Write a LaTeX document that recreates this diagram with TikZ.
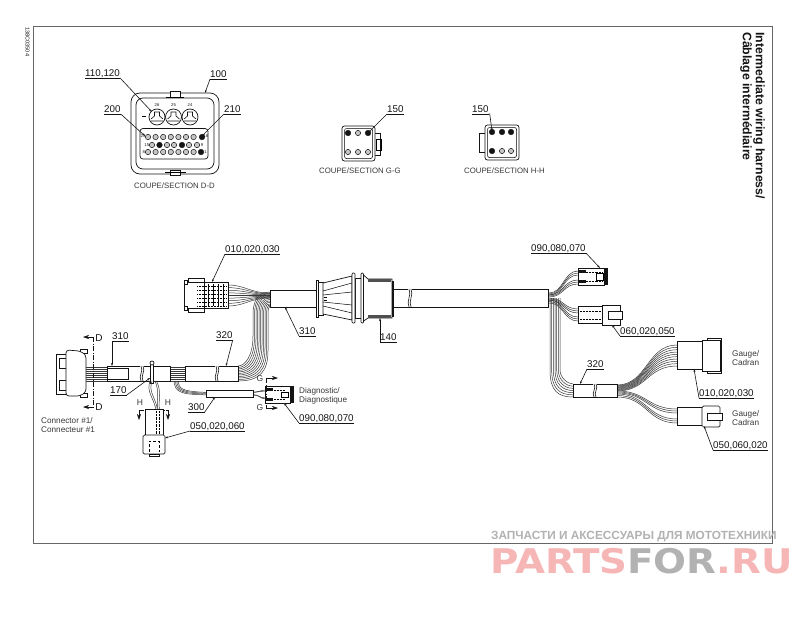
\documentclass[tikz,border=0pt]{standalone}
\usepackage{fontspec}
\usepackage{graphicx}
\setmainfont{Liberation Sans}
\newfontfamily\wmfont{DejaVu Sans}
\usetikzlibrary{arrows.meta}
\definecolor{ink}{gray}{0.08}
\definecolor{framec}{gray}{0.40}
\definecolor{wmpink}{RGB}{246,182,182}
\definecolor{wmgray}{gray}{0.70}
\tikzset{
  wire/.style={line width=.5pt,draw=ink!85},
  part/.style={line width=.7pt,draw=ink,fill=white},
  lead/.style={line width=.6pt,draw=ink},
  lbl/.style={inner xsep=0pt,inner ysep=1.5pt,text height=7pt,text depth=0pt,anchor=south west,font=\fontsize{9.8}{10}\selectfont,text=ink},
  sect/.style={inner sep=0pt,font=\fontsize{7.8}{9}\selectfont,text=ink!85,anchor=west},
  small/.style={inner sep=0pt,font=\fontsize{8.2}{9.2}\selectfont,text=ink!85,align=left,anchor=north west},
  tinyt/.style={inner sep=0pt,font=\fontsize{4.2}{5}\selectfont,text=ink},
  letter/.style={inner sep=0pt,font=\fontsize{8.5}{9}\selectfont,text=ink!85},
  pin/.style={line width=.5pt,draw=ink,fill=gray!45},
  pinb/.style={line width=.4pt,draw=ink,fill=ink},
  cut/.style={-{Stealth[length=6pt,width=4pt]},line width=.6pt,draw=ink},
  cutline/.style={line width=.5pt,draw=ink,dash pattern=on 5pt off 1.5pt on 1pt off 1.5pt},
  tip/.style={-{Stealth[length=3pt,width=2pt]}}
}
\newcommand\lab[7]{% name x yu text tipx tipy side
  \node[lbl] (#1) at (#2,#3) {#4};
  \coordinate (#1-t) at (#5,#6);
  \draw[lead] (#1.south west) -- (#1.south east);
  \draw[lead,tip] (#1.south #7) -- (#1-t);
}
\newcommand\fan[7]{%
  \foreach \i in {0,...,#7}{%
    \pgfmathsetmacro\fa{#2+(#3-#2)*\i/#7}
    \pgfmathsetmacro\fb{#5+(#6-#5)*\i/#7}
    \pgfmathsetmacro\fm{(#1+#4)/2}
    \draw[wire] (#1,\fa) .. controls (\fm,\fa) and (\fm,\fb) .. (#4,\fb);
  }}
\newcommand\hw[5]{% x1 x2 ya yb n
  \foreach \i in {0,...,#5}{%
    \pgfmathsetmacro\fa{#3+(#4-#3)*\i/#5}
    \draw[wire] (#1,\fa) -- (#2,\fa);
  }}
\newcommand\brk[3]{% x y1 y2
  \fill[white] (#1-1,#2+.4) rectangle (#1+3,#3-.4);
  \foreach \d in {0,2}{\draw[lead] (#1+\d,#2) .. controls (#1+\d+3,#2+#3/3-#2/3) and (#1+\d-3,#2+2*#3/3-2*#2/3) .. (#1+\d,#3);}
}
\begin{document}
\begin{tikzpicture}[x=1pt,y=-1pt]
\useasboundingbox (0,0) rectangle (800,624);
\fill[white] (0,0) rectangle (800,624);
% frame
\draw[line width=1pt,draw=framec] (33.5,26) rectangle (772,543);
\node[inner sep=0pt,rotate=-90,anchor=west,font=\fontsize{5.6}{6}\selectfont,text=ink] (code) at (27.5,27) {138C03504};
\node[inner sep=0pt,rotate=-90,anchor=north west,align=left,font=\bfseries\fontsize{12.3}{13}\selectfont,text=ink] (title) at (765,32) {Intermediate wiring harness/\\Câblage intermédiaire};

% ---------- Section D-D
\draw[part,rounded corners=9pt] (131,93) rectangle (219,174);
\draw[part,rounded corners=7pt] (136,98) rectangle (214,169);
\draw[part,fill=white] (170,91) rectangle (180,97);
\draw[line width=.5pt] (166,97) -- (184,97);
\draw[part,fill=white] (170,170) rectangle (180,175);
\draw[line width=.5pt] (165,172) -- (186,172);
\draw[part,rounded corners=3pt] (140,128.5) rectangle (208,159);
\foreach \x/\n in {157/26,173.5/25,190/24}{
  \draw[part] (\x,117) circle (8);
  \draw[line width=.6pt,draw=ink] (\x-6,119) -- (\x-2.5,116) -- (\x-2.5,112) -- (\x+2.5,112) -- (\x+2.5,116) -- (\x+6,119) (\x-6,121) -- (\x+6,121);
  \node[tinyt] (cav\n) at (\x,105.5) {\n};
}
\draw[line width=.7pt] (142,116) -- (146,116);
\foreach \x in {148,155.6,163.2,170.8,178.4,186,193.6}{\draw[pin] (\x,137) circle (2.7);\draw[pin] (\x,152) circle (2.7);}
\foreach \x in {152,167,174,189,197}{\draw[pin] (\x,145) circle (2.7);}
\draw[pinb] (202,137) circle (2.8);
\draw[pinb] (201,152) circle (2.8);
\draw[pinb] (159.5,145) circle (2.8);
\draw[pinb] (182,145) circle (2.8);
\node[tinyt] (r1l) at (143,136) {23};
\node[tinyt] (r1r) at (206,136) {16};
\node[tinyt] (r2l) at (146.8,145) {15};
\node[tinyt] (r2r) at (202,145) {9};
\node[tinyt] (r3l) at (143.8,152) {8};
\node[tinyt] (r3r) at (205.5,152) {1};
\lab{a110}{85}{78}{110,120}{152}{112}{east}
\lab{a100}{210}{79}{100}{205}{93}{west}
\lab{a200}{104}{114}{200}{145}{136}{east}
\lab{a210}{224}{114}{210}{201}{137}{west}
\node[sect] (sdd) at (134,186) {COUPE/SECTION D-D};

% ---------- Section G-G
\draw[part] (375,133) -- (380,133) -- (380,155) -- (375,155);
\draw[line width=.5pt] (376,139) rectangle (381,150);
\draw[part,rounded corners=2.5pt] (342,126) rectangle (375,161);
\draw[line width=.5pt,rounded corners=2pt] (344.5,128.5) rectangle (372.5,158.5);
\foreach \x in {348,358,368}{\draw[pin] (\x,152) circle (2.6);}
\draw[pin] (358,133) circle (2.6);
\draw[pinb] (348,133) circle (2.8);
\draw[pinb] (368,133) circle (2.8);
\lab{g150}{387}{114}{150}{368}{133}{west}
\node[sect] (sgg) at (319,171) {COUPE/SECTION G-G};

% ---------- Section H-H
\draw[part] (485,133) -- (479,133) -- (479,152) -- (485,152);
\draw[part,rounded corners=2.5pt] (485,125) rectangle (519,160);
\draw[line width=.5pt,rounded corners=2pt] (487.5,127.5) rectangle (516.5,157.5);
\foreach \x in {502,511}{\draw[pin] (\x,151) circle (2.6);}
\foreach \x in {492,502,511}{\draw[pinb] (\x,132) circle (2.8);}
\draw[pinb] (492,151) circle (2.8);
\node[lbl] (h150) at (472,114) {150};
\coordinate (h150-t) at (492,131);
\draw[lead] (h150.south west) -- (h150.south east);
\draw[lead,tip] (h150.south east) -- ++(1,0) -- (h150-t);
\node[sect] (shh) at (464,171) {COUPE/SECTION H-H};

% ---------- wires left
\hw{86}{107}{367}{381}{7}
\hw{170}{186}{367}{381}{7}
% 300 branch
\foreach \i in {0,1,2,3}{
  \draw[wire] (174+\i*1.4,381) .. controls (175+\i*1.4,392-\i*1.2) and (180,393.5-\i*1.1+1) .. (206,392.5-\i*.8+2.3);
}
\fan{253}{392.5}{394.5}{266}{390}{399}{1}
\fan{253}{392}{395}{266}{391}{398}{1}
% big bend
\foreach \i in {0,...,10}{
  \pgfmathsetmacro\yh{366+15*\i/10}
  \pgfmathsetmacro\xv{253+15*\i/10}
  \pgfmathsetmacro\yt{292+15*\i/10}
  \draw[wire] (238,\yh) .. controls (\xv-8,\yh) and (\xv,\yh-10) .. (\xv,\yh-30) -- (\xv,315) .. controls (\xv,302) and (\xv+4,\yt) .. (270,\yt);
}
% top connector wires
\foreach \i in {0,...,8}{
  \pgfmathsetmacro\fa{285+21*\i/8}
  \pgfmathsetmacro\fb{293+5*\i/8}
  \draw[wire] (228,\fa) .. controls (245,\fa) and (250,\fb) .. (270,\fb);
}
% ---------- wires right
\foreach \i in {0,...,6}{
  \pgfmathsetmacro\xv{550+10*\i/6}
  \pgfmathsetmacro\yh{397-13*\i/6}
  \draw[wire] (\xv,298) -- (\xv,370) .. controls (\xv,\yh-6) and (\xv+8,\yh) .. (573,\yh);
}
\fan{549}{293}{295}{578}{271}{275}{2}
\fan{549}{295}{297}{578}{280}{284}{2}
\fan{549}{298}{300}{578}{309}{313}{2}
\fan{549}{300}{303}{578}{317}{321}{2}
\fan{617}{385}{391}{677}{345}{366}{9}
\fan{617}{391}{393}{677}{409}{413}{2}
\fan{617}{394}{397}{677}{419}{423}{2}

% ---------- Connector #1
\draw[part] (56,354) rectangle (66,394);
\draw[part] (59,358) rectangle (66,368);
\draw[part] (59,380) rectangle (66,390);
\draw[part] (80,349) rectangle (87,353);
\draw[part] (80,393) rectangle (87,397);
\draw[part,rounded corners=3pt] (66,350) -- (80,351) -- (86,355) -- (86,392) -- (80,396) -- (66,396) -- cycle;
\draw[cutline] (93,337) -- (93,407);
\draw[cut] (93,337) -- (83,337);
\draw[cut] (93,407) -- (83,407);
\node[inner sep=0pt,font=\fontsize{10}{11}\selectfont,text=ink] (d1) at (99,338) {D};
\node[inner sep=0pt,font=\fontsize{10}{11}\selectfont,text=ink] (d2) at (99,407) {D};
\node[small] (conn) at (41,417) {Connector \#1/\\Connecteur \#1};

% sleeve 310 left
\draw[part] (107,366) rectangle (170,381);
\draw[part] (107,368) rectangle (128,379);
\brk{141}{366}{381}
% clip 170
\draw[part] (150.5,365) -- (150.5,383) -- (153.5,383) -- (153.5,365);
\draw[part] (152,363) circle (2);
% branch to lower connector
\draw[wire] (150,381) .. controls (146,392) and (154,398) .. (156,410);
\draw[wire] (152,381) .. controls (148,392) and (156,398) .. (157.5,410);
\draw[wire] (155,381) .. controls (160,392) and (156,400) .. (158,410);
\draw[wire] (156.5,381) .. controls (162,392) and (158,400) .. (159.5,410);
% sleeve 320 left
\draw[part] (185,366) rectangle (238,381);
\brk{216}{366}{381}
% H cuts
\node[letter] (h1) at (140,403) {H};
\node[letter] (h2) at (168,403) {H};
\draw[cut] (139,410) -- (139,420);
\draw[cut] (168,410) -- (168,420);
\draw[cutline] (139,410) -- (168,410);
% lower connector
\draw[part] (145,409) rectangle (163,435);
\draw[line width=.4pt,densely dotted] (156,411) -- (156,435) (159,411) -- (159,435);
\draw[part,rounded corners=1.5pt] (143,435) rectangle (165,454);
\draw[line width=.4pt,densely dashed] (149,452) -- (149,441) -- (159,441) -- (159,452);
\draw[part] (149,454) rectangle (159,456);
\lab{a310l}{112}{341}{310}{112}{366}{west}
\lab{a170}{110}{395}{170}{150}{378}{east}
\lab{a300}{188}{412}{300}{215}{397}{east}
\lab{a050l}{190}{431}{050,020,060}{165}{438}{west}
\lab{a320l}{216}{340}{320}{226}{366}{east}
% 300 sleeve
\draw[part] (206,390) rectangle (253,397);
% Diagnostic connector
\draw[part] (265,386) rectangle (290,403);
\fill[ink] (290,386) rectangle (294,403);
\draw[line width=.45pt,densely dotted] (268,390) -- (285,390) (268,399) -- (285,399);
\draw[line width=.4pt] (281,392) rectangle (288,397);
\fill[ink] (266,388) rectangle (273,391);
\fill[ink] (266,397.5) rectangle (273,400.5);
\draw[cutline] (266,378) -- (266,408);
\draw[cut] (266,378) -- (278,378);
\draw[cut] (266,408) -- (278,408);
\node[letter] (g1) at (260,379) {G};
\node[letter] (g2) at (260,408) {G};
\node[small] (diag) at (299,387) {Diagnostic/\\Diagnostique};
\lab{a090l}{299}{423}{090,080,070}{284}{403}{west}

% top connector
\draw[part] (204,282) rectangle (228,308);
\draw[part] (184,282) -- (204,282) -- (204,308) -- (184,308) -- cycle;
\draw[part] (188,278) rectangle (204,282);
\draw[part] (188,308) rectangle (204,312);
\draw[part] (184,280) rectangle (187,284);
\draw[part] (184,306) rectangle (187,310);
\foreach \y in {286,290,294,298,302,306}{\draw[line width=.5pt,densely dotted] (197,\y) -- (226,\y);}
\foreach \x in {208,213,218,223}{\draw[line width=.35pt] (\x,284) -- (\x,306);}
\lab{a010t}{225}{254}{010,020,030}{212}{282}{west}

% main sleeve 310
\draw[part] (270,290) rectangle (316,307);
\lab{a310}{299}{336}{310}{285}{307}{west}

% plug 140
\draw[part] (393,289) rectangle (548,307);
\brk{409}{289}{307}
\draw[part] (316,280) rectangle (318.5,317);
\draw[part] (318.5,282) rectangle (323,315);
\draw[part] (323,283) -- (352,276) -- (352,320) -- (323,314) -- cycle;
\draw[line width=.5pt] (323,291) -- (352,283) (323,306) -- (352,313) (323,295) -- (352,292) (323,302) -- (352,305);
\draw[line width=.7pt] (324,297) -- (327,297) (324,300) -- (327,300);
\draw[part] (355,278) rectangle (361,318);
\draw[part,rounded corners=1pt] (352,273) rectangle (355,323);
\draw[part,rounded corners=1pt] (361,273) rectangle (363.5,323);
\draw[part] (363.5,275) -- (368,279) -- (392,279) -- (392,318) -- (368,318) -- (363.5,321) -- cycle;
\fill[ink!75] (368,279) rectangle (391,282);
\fill[ink!75] (368,315) rectangle (391,318);
\draw[part] (392,281) rectangle (393.5,316);
\lab{a140}{380}{342}{140}{380}{318}{west}

% right connectors
\draw[part] (578,268) rectangle (604,285);
\fill[ink] (604,268) rectangle (608,285);
\draw[line width=.45pt,densely dotted] (580,272) -- (602,272) (580,281) -- (602,281);
\draw[line width=.4pt] (596,273) rectangle (603,280);
\fill[ink] (579,270) rectangle (586,273);
\fill[ink] (579,279.5) rectangle (586,282.5);
\lab{a090r}{531}{253}{090,080,070}{600}{268}{east}
\draw[part] (578,306) rectangle (602,323);
\draw[line width=.45pt,densely dotted] (580,311) -- (602,311) (580,319) -- (602,319);
\draw[part] (602,305) rectangle (620,325);
\draw[part] (608,311) rectangle (622,319);
\lab{a060}{620}{336}{060,020,050}{612}{325}{west}

% sleeve 320 right
\draw[part] (573,384) rectangle (617,397);
\brk{594}{384}{397}
\lab{a320r}{587}{369}{320}{580}{384}{west}

% gauge connectors
\draw[part] (707,338) rectangle (721,373);
\draw[part] (677,341) rectangle (702,369);
\draw[part] (702,340) -- (720,340) -- (720,371) -- (702,371) -- cycle;
\lab{a010r}{699}{398}{010,020,030}{694}{369}{west}
\draw[part] (677,407) rectangle (702,425);
\draw[part,rounded corners=1.5pt] (702,406) rectangle (720,427);
\draw[part] (707,413) rectangle (722,420);
\lab{a050r}{713}{450}{050,060,020}{704}{426}{west}
\node[small] (g3) at (732,350) {Gauge/\\Cadran};
\node[small] (g4) at (732,410) {Gauge/\\Cadran};

% watermark
\node[inner sep=0pt,anchor=west,text=wmgray,font=\bfseries\fontsize{11.8}{13}\selectfont] (wm1) at (491,537) {ЗАПЧАСТИ И АКСЕССУАРЫ ДЛЯ МОТОТЕХНИКИ};
\node[inner sep=0pt,anchor=west,font=\wmfont\bfseries\fontsize{34}{36}\selectfont] (wm2) at (490,561) {\scalebox{1.14}[1]{\textcolor{wmpink}{PARTS}\textcolor{wmgray}{FOR}\textcolor{wmpink}{.RU}}};
\end{tikzpicture}
\end{document}
